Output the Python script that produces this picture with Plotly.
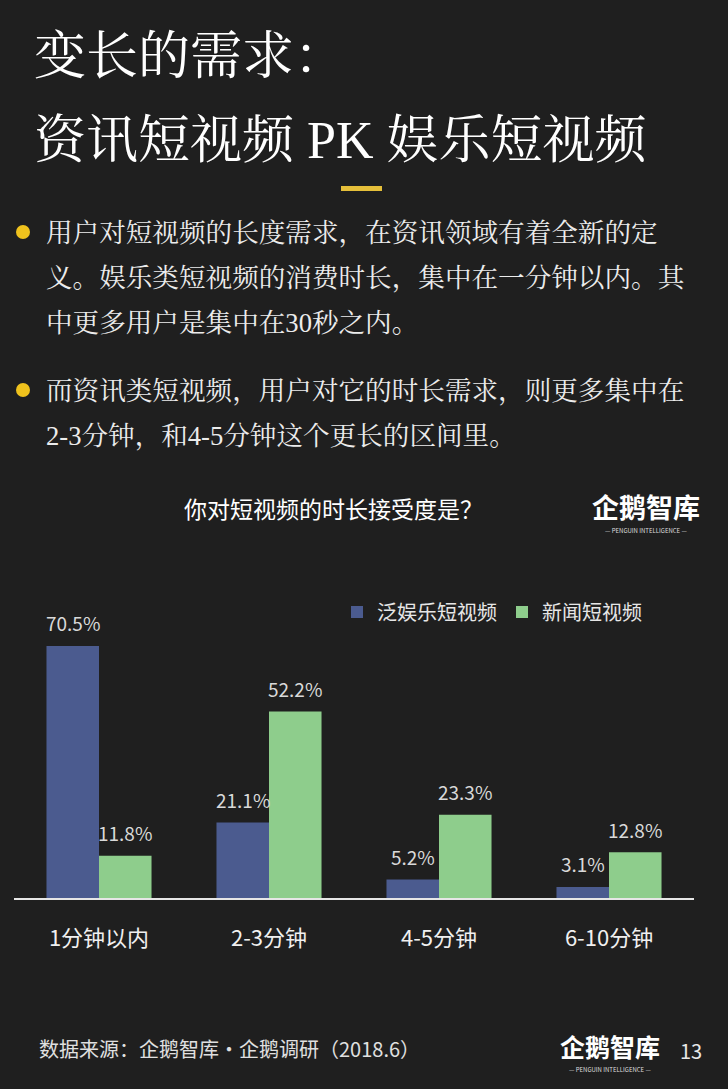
import plotly.graph_objects as go

# data
categories = ["1分钟以内", "2-3分钟", "4-5分钟", "6-10分钟"]
ent_name = "泛娱乐短视频"
news_name = "新闻短视频"
ent_values = [70.5, 21.1, 5.2, 3.1]
news_values = [11.8, 52.2, 23.3, 12.8]

title_lines = ["变长的需求：", "资讯短视频 PK 娱乐短视频"]
bullet1 = ["用户对短视频的长度需求，在资讯领域有着全新的定",
           "义。娱乐类短视频的消费时长，集中在一分钟以内。其",
           "中更多用户是集中在30秒之内。"]
bullet2 = ["而资讯类短视频，用户对它的时长需求，则更多集中在",
           "2-3分钟，和4-5分钟这个更长的区间里。"]
chart_title = "你对短视频的时长接受度是？"
source = "数据来源：企鹅智库·企鹅调研（2018.6）"
page_no = "13"

W, H = 728, 1089
BG = "#1f1f1f"
BLUE = "#4b5b8f"
GREEN = "#8ecd8c"
YELLOW = "#efc21d"
SERIF = "Liberation Serif, Noto Serif CJK SC, Noto Sans CJK SC, serif"
SANS = "Noto Sans CJK SC, Noto Sans, sans-serif"


def px(x):
    return x / W


def py(y):
    return 1 - y / H


fig = go.Figure()
fig.add_trace(go.Bar(x=categories, y=ent_values, name=ent_name,
                     marker=dict(color=BLUE, line_width=0)))
fig.add_trace(go.Bar(x=categories, y=news_values, name=news_name,
                     marker=dict(color=GREEN, line_width=0)))

ann = []
# value labels over the bars
half = (1 - 0.382) / 4
for i, (a, b) in enumerate(zip(ent_values, news_values)):
    for off, v in ((-half, a), (half, b)):
        ann.append(dict(x=i + off, y=v, xref="x", yref="y", text=f"{v}%",
                        showarrow=False, yanchor="middle", yshift=23,
                        font=dict(family=SANS, size=19, color="#d9d9d9")))

# page header
for t, y in zip(title_lines, [57, 141]):
    ann.append(dict(x=px(32), y=py(y), xref="paper", yref="paper", text=t,
                    showarrow=False, xanchor="left", yanchor="middle",
                    font=dict(family=SERIF, size=52, color="#ffffff")))

for lines, y0 in ((bullet1, 233), (bullet2, 391)):
    for k, t in enumerate(lines):
        ann.append(dict(x=px(44), y=py(y0 + 45 * k), xref="paper", yref="paper",
                        text=t, showarrow=False, xanchor="left", yanchor="middle",
                        font=dict(family=SERIF, size=26.6, color="#ececec")))

ann.append(dict(x=px(333), y=py(508), xref="paper", yref="paper", text=chart_title,
                showarrow=False, xanchor="center", yanchor="middle",
                font=dict(family=SANS, size=23, color="#ffffff")))

# logos
for cx, cy, s, sub in ((646, 507, 27, 531), (610, 1046, 25, 1069)):
    ann.append(dict(x=px(cx), y=py(cy), xref="paper", yref="paper", text="<b>企鹅智库</b>",
                    showarrow=False, xanchor="center", yanchor="middle",
                    font=dict(family=SANS, size=s, color="#ffffff")))
    ann.append(dict(x=px(cx), y=py(sub), xref="paper", yref="paper",
                    text="— PENGUIN INTELLIGENCE —", showarrow=False,
                    xanchor="center", yanchor="middle",
                    font=dict(family=SANS, size=6, color="#dddddd")))

ann.append(dict(x=px(37), y=py(1048), xref="paper", yref="paper", text=source,
                showarrow=False, xanchor="left", yanchor="middle",
                font=dict(family=SANS, size=20, color="#e0e0e0")))
ann.append(dict(x=px(691), y=py(1050), xref="paper", yref="paper", text=page_no,
                showarrow=False, xanchor="center", yanchor="middle",
                font=dict(family=SANS, size=20, color="#e8e8e8")))

shapes = [
    dict(type="rect", xref="paper", yref="paper", x0=px(341), x1=px(382),
         y0=py(191), y1=py(186), fillcolor="#e5bf3a", line_width=0),
]
for y in (232, 390):
    shapes.append(dict(type="circle", xref="paper", yref="paper",
                       x0=px(16), x1=px(30), y0=py(y + 7), y1=py(y - 7),
                       fillcolor=YELLOW, line_width=0))

fig.update_layout(
    width=W, height=H, autosize=False,
    paper_bgcolor=BG, plot_bgcolor=BG,
    margin=dict(l=0, r=0, t=0, b=0),
    barmode="group", bargap=0.382, bargroupgap=0,
    showlegend=True,
    legend=dict(orientation="h", x=px(337), y=py(612), xanchor="left", yanchor="middle",
                bgcolor="rgba(0,0,0,0)", font=dict(family=SANS, size=20, color="#e6e6e6"),
                traceorder="normal"),
    annotations=ann, shapes=shapes,
    xaxis=dict(domain=[px(14), px(694)], showline=True, linecolor="#e6e6e6", linewidth=1.5,
               showgrid=False, zeroline=False, ticks="", ticklabelstandoff=20,
               tickfont=dict(family=SANS, size=22, color="#f0f0f0")),
    yaxis=dict(domain=[py(898), py(612)], range=[0, 80], visible=False, showgrid=False),
)

# drop the page's default body margin so the figure fills the window
fig.write_html("out.html", config={"displayModeBar": False},
               post_script="document.body.style.margin='0';document.body.style.background='%s';" % BG)
